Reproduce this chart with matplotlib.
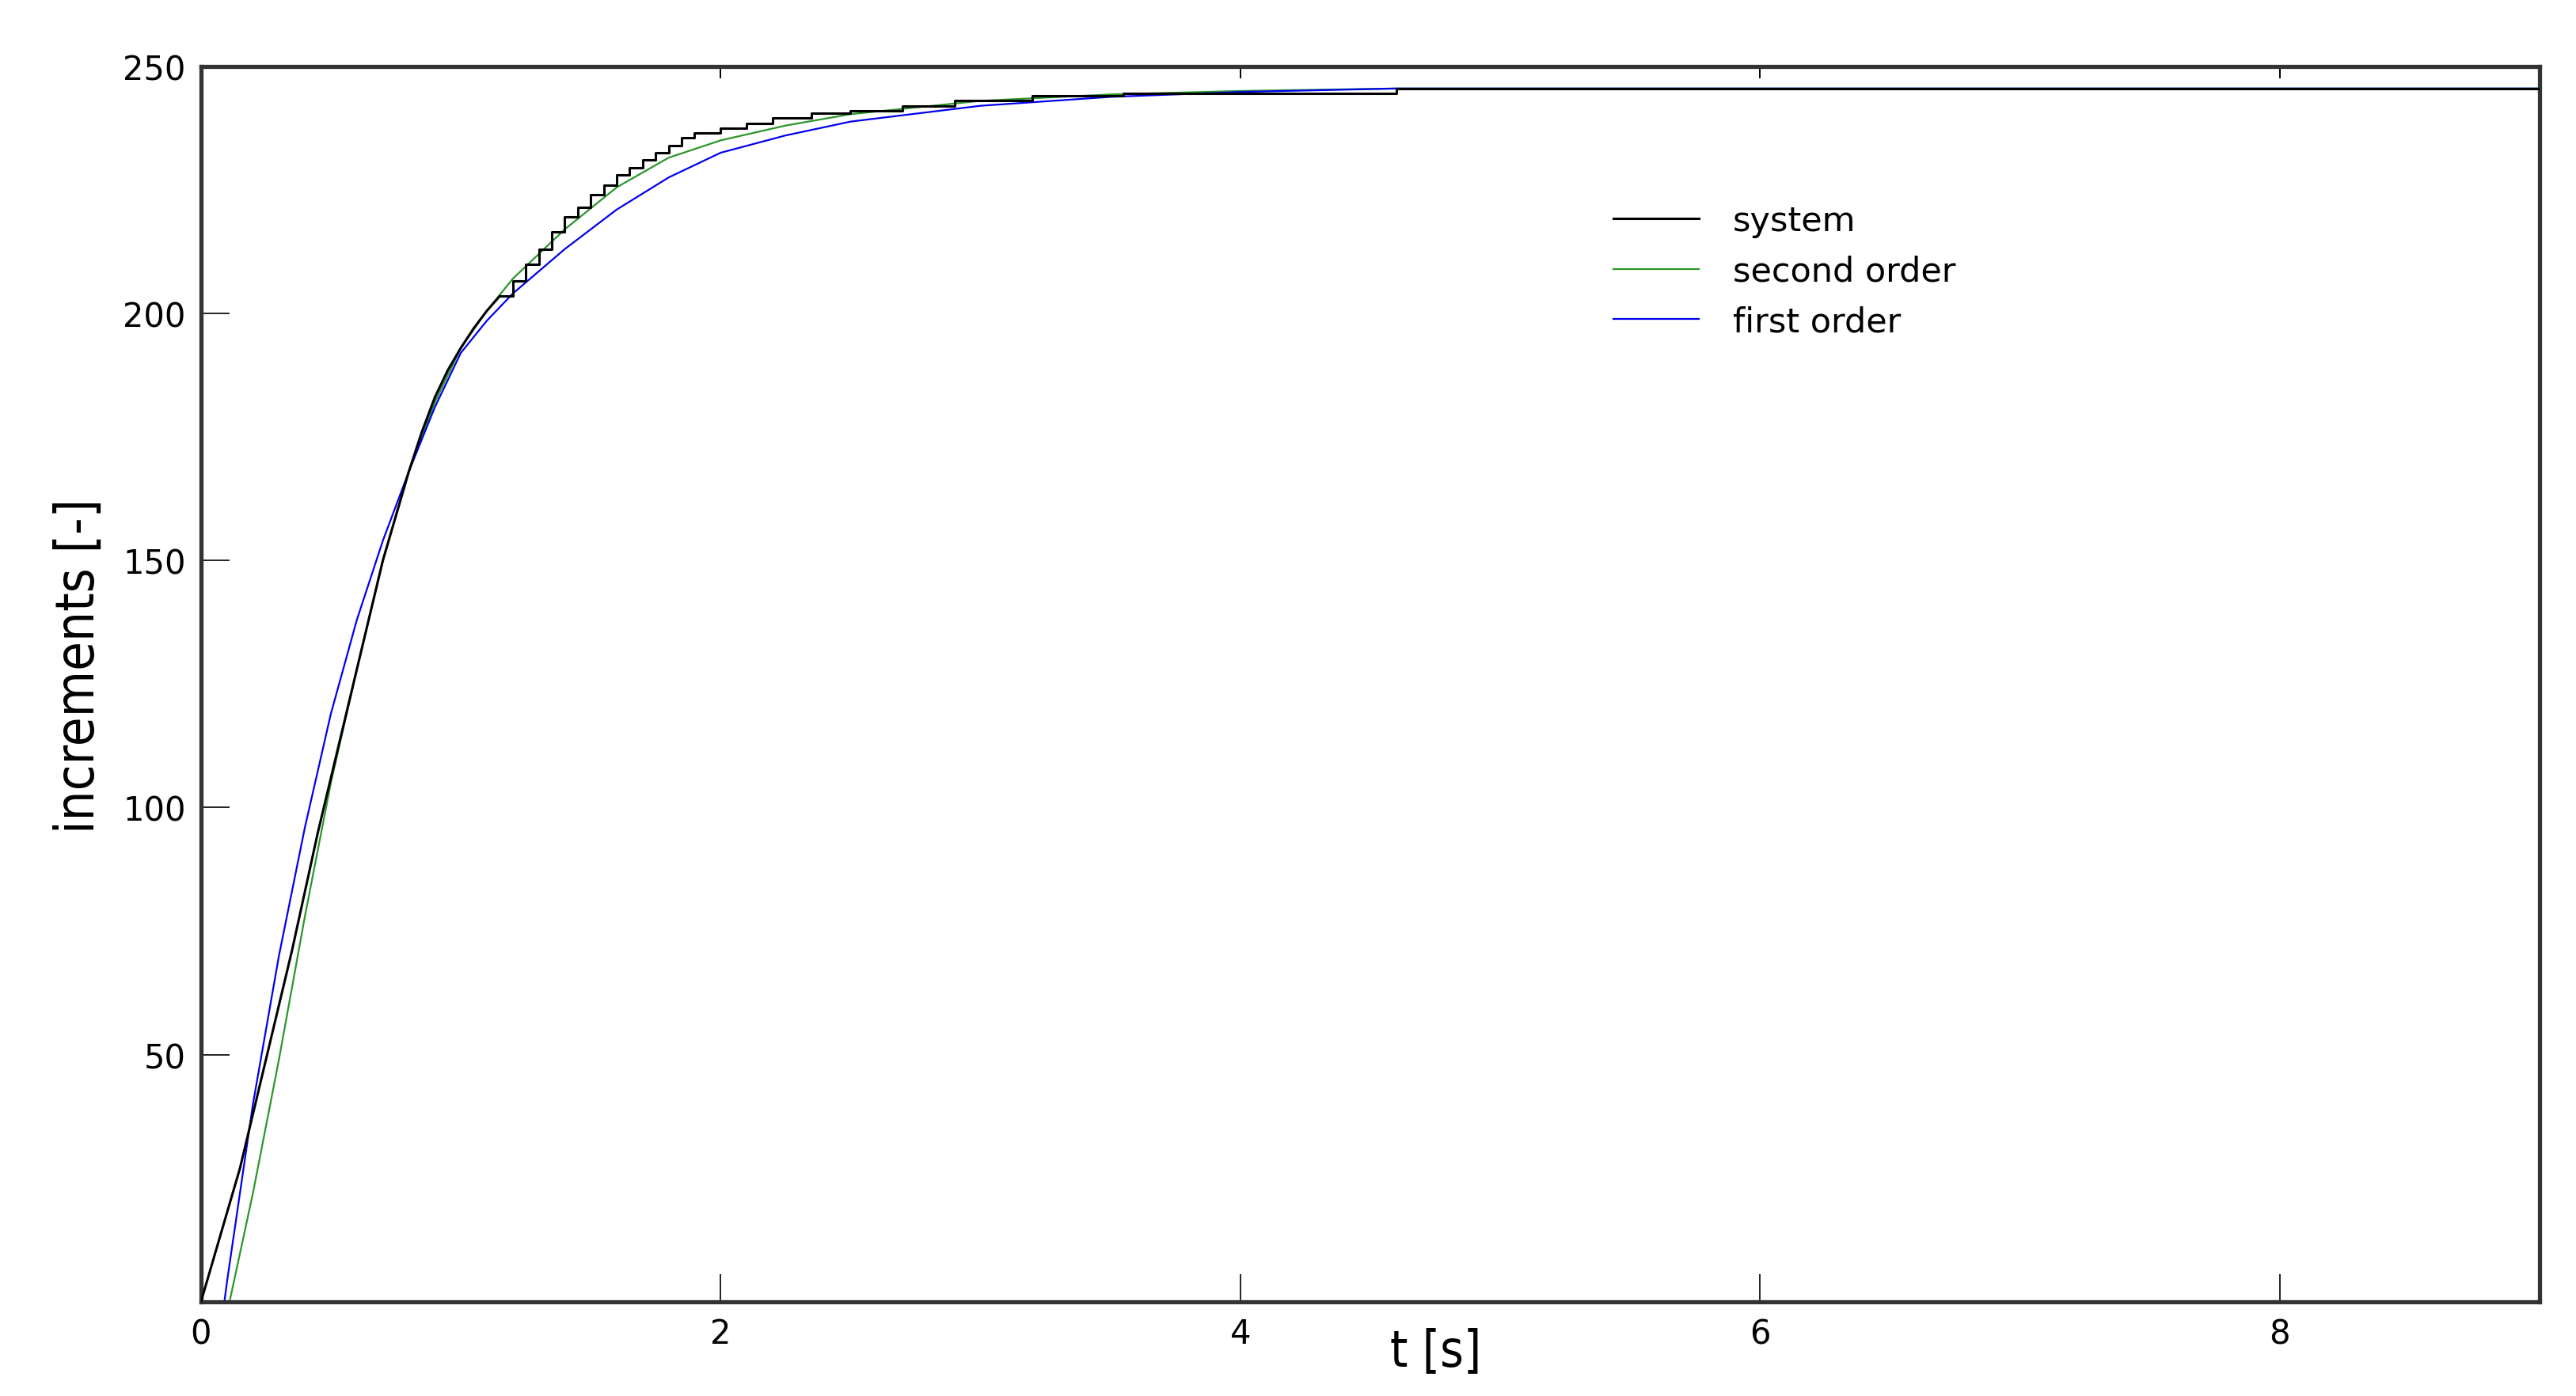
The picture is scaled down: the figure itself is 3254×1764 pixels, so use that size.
import matplotlib
matplotlib.use('Agg')
import matplotlib.pyplot as plt

# measured system response (quantized increments)
t_sys = [0.00, 0.05, 0.10, 0.15, 0.20, 0.25, 0.30, 0.35, 0.40, 0.45,
         0.50, 0.55, 0.60, 0.65, 0.70, 0.75, 0.80, 0.85, 0.90, 0.95,
         1.00, 1.05, 1.10, 1.15, 1.20, 1.25, 1.30, 1.35, 1.40, 1.45,
         1.50, 1.55, 1.60, 1.65, 1.70, 1.75, 1.80, 1.85, 1.90, 2.00,
         2.10, 2.20, 2.35, 2.50, 2.70, 2.90, 3.20, 3.55, 4.60, 9.00]
y_sys = [0, 9, 18, 27, 38, 49, 60, 71, 83, 95,
         106, 117, 128, 139, 150, 159, 168, 176, 183, 188.5,
         193, 197, 200.5, 203.5, 206.5, 210, 213, 216.5, 219.5, 221.5,
         224, 226, 228, 229.5, 231, 232.5, 234, 235.5, 236.5, 237.5,
         238.5, 239.5, 240.5, 241, 242, 243, 244, 244.5, 245.5, 245.5]

# second order model
t_second = [0.0, 0.11, 0.2, 0.3, 0.4, 0.5, 0.6, 0.7, 0.8, 0.9, 1.0,
            1.1, 1.2, 1.4, 1.6, 1.8, 2.0, 2.25, 2.5, 3.0, 3.5, 4.0, 4.6, 9.0]
y_second = [0, 0, 22, 49, 78, 105, 128, 150, 168, 182, 193,
            200.5, 207, 217, 225.5, 231.5, 235, 238, 240.3, 243, 244.3, 245, 245.5, 245.5]

# first order model with dead time
t_first = [0.0, 0.09, 0.1, 0.2, 0.3, 0.4, 0.5, 0.6, 0.7, 0.8, 0.9, 1.0,
           1.1, 1.2, 1.4, 1.6, 1.8, 2.0, 2.25, 2.5, 3.0, 3.5, 4.0, 4.6, 9.0]
y_first = [0, 0, 4, 40, 70, 96, 119, 138, 154, 168, 181, 192,
           198.5, 204, 213, 221, 227.5, 232.5, 236, 238.8, 242, 243.8, 244.8, 245.5, 245.5]

x_ticks = [0, 2, 4, 6, 8]
y_ticks = [50, 100, 150, 200, 250]

# the rise looks smooth, the quantization steps only show near the plateau
n_rise = t_sys.index(1.15)

fig = plt.figure(figsize=(32.55, 17.65), dpi=100)
ax = fig.add_axes([0.078, 0.0675, 0.9075, 0.8845])

ax.plot(t_sys[:n_rise + 1], y_sys[:n_rise + 1], color='black', lw=2.2, zorder=3, label='system')
ax.plot(t_sys[n_rise:], y_sys[n_rise:], color='black', lw=2.2, drawstyle='steps-post', zorder=3)
ax.plot(t_second, y_second, color='#2a962a', lw=1.6, label='second order', zorder=2)
ax.plot(t_first, y_first, color='#0000ee', lw=1.6, label='first order', zorder=2)

ax.set_xlim(0, 9)
ax.set_ylim(0, 250)
ax.set_xticks(x_ticks)
ax.set_yticks(y_ticks)

for s in ax.spines.values():
    s.set_linewidth(3.8)
    s.set_color('#333333')

ax.tick_params(axis='both', direction='in', width=1.4, color='#222222', labelsize=30)
ax.tick_params(axis='y', length=26, pad=14, left=True, right=False)
ax.tick_params(axis='x', length=25, pad=14, bottom=True, top=False)
sec = ax.secondary_xaxis('top')
sec.set_xticks(x_ticks)
sec.tick_params(direction='in', length=11, width=1.4, labeltop=False)
sec.spines['top'].set_visible(False)

ax.set_ylabel('increments [-]', fontsize=48, fontstretch='condensed')
ax.yaxis.set_label_coords(-0.041, 0.515)
ax.set_xlabel('t [s]', fontsize=46, fontstretch='condensed')
ax.xaxis.set_label_coords(0.528, -0.02)

leg = ax.legend(loc='upper left', bbox_to_anchor=(0.591, 0.913), frameon=False,
                fontsize=31, handlelength=2.5, handletextpad=1.0, labelspacing=0.5)

fig.savefig('out.png', dpi=100)
